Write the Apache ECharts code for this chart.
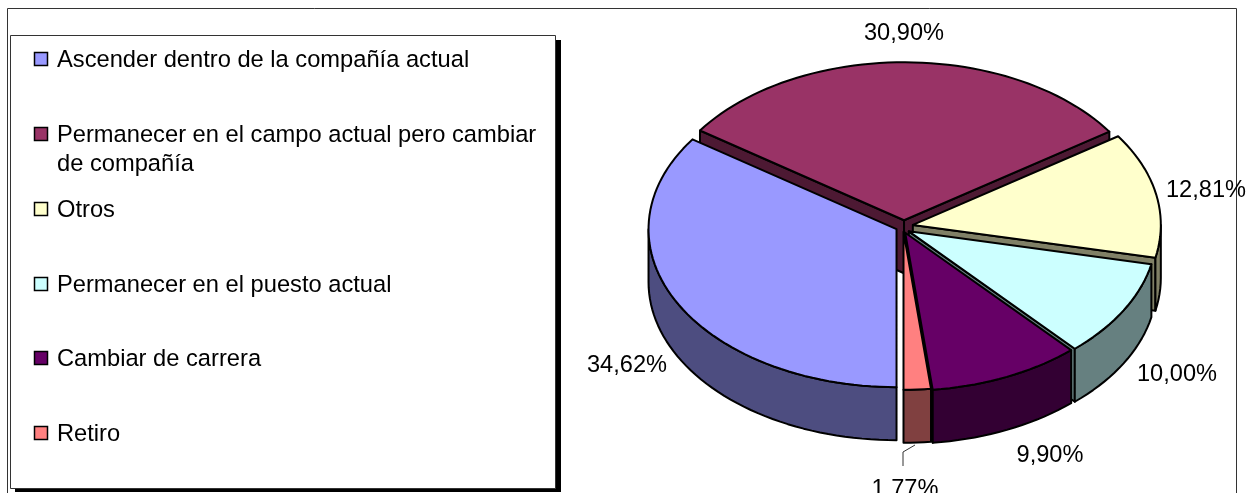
<!DOCTYPE html>
<html>
<head>
<meta charset="utf-8">
<style>
    html, body { margin: 0; padding: 0; background: #fff; overflow: hidden; }
    #chart { width: 1252px; height: 493px; }
</style>
<script src="https://cdn.jsdelivr.net/npm/echarts@6/dist/echarts.min.js"></script>
</head>
<body>
<div id="chart"></div>
<script>
const categories = ['Ascender dentro de la compañía actual', 'Permanecer en el campo actual pero cambiar\nde compañía', 'Otros', 'Permanecer en el puesto actual', 'Cambiar de carrera', 'Retiro'];
const shares = [34.62, 30.90, 12.81, 10.00, 9.90, 1.77];
const topColors = ['#9999ff', '#993366', '#ffffcc', '#ccffff', '#660066', '#ff8080'];
const wallColors = ['#4d4d80', '#4d1933', '#808066', '#668080', '#330033', '#804040'];
// de atras hacia adelante
const paintOrder = [1, 2, 3, 0, 4, 5];

const LABEL_FONT = '23.6px "Liberation Sans", Arial, sans-serif';
const LEGEND_FONT = '23.7px "Liberation Sans", Arial, sans-serif';
const pie = { cx: 904, cy: 226, a: 248, b: 158, depth: 53, explode: 9, start: 180 };
// ajuste fino de cada porcion
const nudge = [[0.5, 0.5], [0, 0], [0, 0], [-3, 2.5], [-2.5, 1.5], [-1, 0]];
const labelPos = [[627, 365], [904, 33], [1206, 190], [1177, 374], [1050, 455], [905, 489]];
const legendY = [59, 134, 209, 284, 358, 433];

const total = shares.reduce((s, v) => s + v, 0);
const toRad = (d) => d * Math.PI / 180;

function rim(c, deg, drop) {
    return [c[0] + pie.a * Math.sin(toRad(deg)), c[1] - pie.b * Math.cos(toRad(deg)) + (drop || 0)];
}
function arc(c, from, to, drop) {
    let pts = [];
    let n = Math.max(2, Math.ceil(Math.abs(to - from) / 2));
    for (let i = 0; i <= n; i++) {
        pts.push(rim(c, from + (to - from) * i / n, drop));
    }
    return pts;
}
function face(points, fill, z) {
    return { type: 'polygon', z2: z, silent: true, shape: { points: points }, style: { fill: fill, stroke: '#000', lineWidth: 2, lineJoin: 'round' } };
}

function renderSlice(params, api) {
    let idx = api.value(0);
    let before = shares.slice(0, idx).reduce((s, v) => s + v, 0);
    let from = pie.start + before / total * 360;
    let to = from + api.value(1) / total * 360;
    let mid = toRad((from + to) / 2);
    let c = [pie.cx + pie.explode * Math.sin(mid) + nudge[idx][0], pie.cy - pie.explode * pie.b / pie.a * Math.cos(mid) + nudge[idx][1]];
    let apexLow = [c[0], c[1] + pie.depth];
    let z = params.dataIndex * 10;
    let children = [];

    //paredes de los cortes
    if (Math.sin(toRad(from)) < -0.001) {
        children.push(face([c, rim(c, from), rim(c, from, pie.depth), apexLow], wallColors[idx], z));
    }
    if (Math.sin(toRad(to)) > 0.001) {
        children.push(face([c, rim(c, to), rim(c, to, pie.depth), apexLow], wallColors[idx], z));
    }
    //pared exterior, solo la mitad de delante
    for (let k = -1; k <= 1; k++) {
        let lo = Math.max(from, 90 + k * 360), hi = Math.min(to, 270 + k * 360);
        if (lo < hi) {
            children.push(face(arc(c, lo, hi).concat(arc(c, hi, lo, pie.depth)), wallColors[idx], z + 1));
        }
    }
    children.push(face([c].concat(arc(c, from, to)), topColors[idx], z + 2));
    children.push({
        type: 'text', z2: 100, silent: true,
        style: {
            x: labelPos[idx][0], y: labelPos[idx][1],
            text: api.value(1).toFixed(2).replace('.', ',') + '%',
            font: LABEL_FONT, fill: '#000', align: 'center', verticalAlign: 'middle'
        }
    });
    return { type: 'group', children: children };
}

let graphics = [
    { type: 'rect', shape: { x: 7.5, y: 8.5, width: 1229, height: 500 }, style: { fill: '#fff', stroke: '#333', lineWidth: 1 }, z: 0 },
    { type: 'rect', shape: { x: 15, y: 40, width: 546, height: 452 }, style: { fill: '#000' }, z: 1 },
    { type: 'rect', shape: { x: 10.5, y: 35.5, width: 545, height: 453 }, style: { fill: '#fff', stroke: '#333', lineWidth: 1 }, z: 2 },
    { type: 'polyline', shape: { points: [[903, 466], [903, 452], [915, 445]] }, style: { fill: null, stroke: '#333', lineWidth: 1 }, z: 3 }
];
categories.forEach(function (name, i) {
    graphics.push({ type: 'rect', z: 3, shape: { x: 34.5, y: legendY[i] - 6.5, width: 13, height: 13 }, style: { fill: topColors[i], stroke: '#000', lineWidth: 1.5 } });
    graphics.push({ type: 'text', z: 3, style: { x: 57, y: legendY[i] - 13, text: name, font: LEGEND_FONT, lineHeight: 29, fill: '#000', verticalAlign: 'top' } });
});

var myChart = echarts.init(document.getElementById('chart'), null, { renderer: 'canvas' });
myChart.setOption({
    animation: false,
    backgroundColor: '#fff',
    graphic: graphics,
    series: [{
        type: 'custom',
        coordinateSystem: 'none',
        z: 5,
        clip: false,
        renderItem: renderSlice,
        data: paintOrder.map((i) => [i, shares[i]])
    }]
});
</script>
</body>
</html>
